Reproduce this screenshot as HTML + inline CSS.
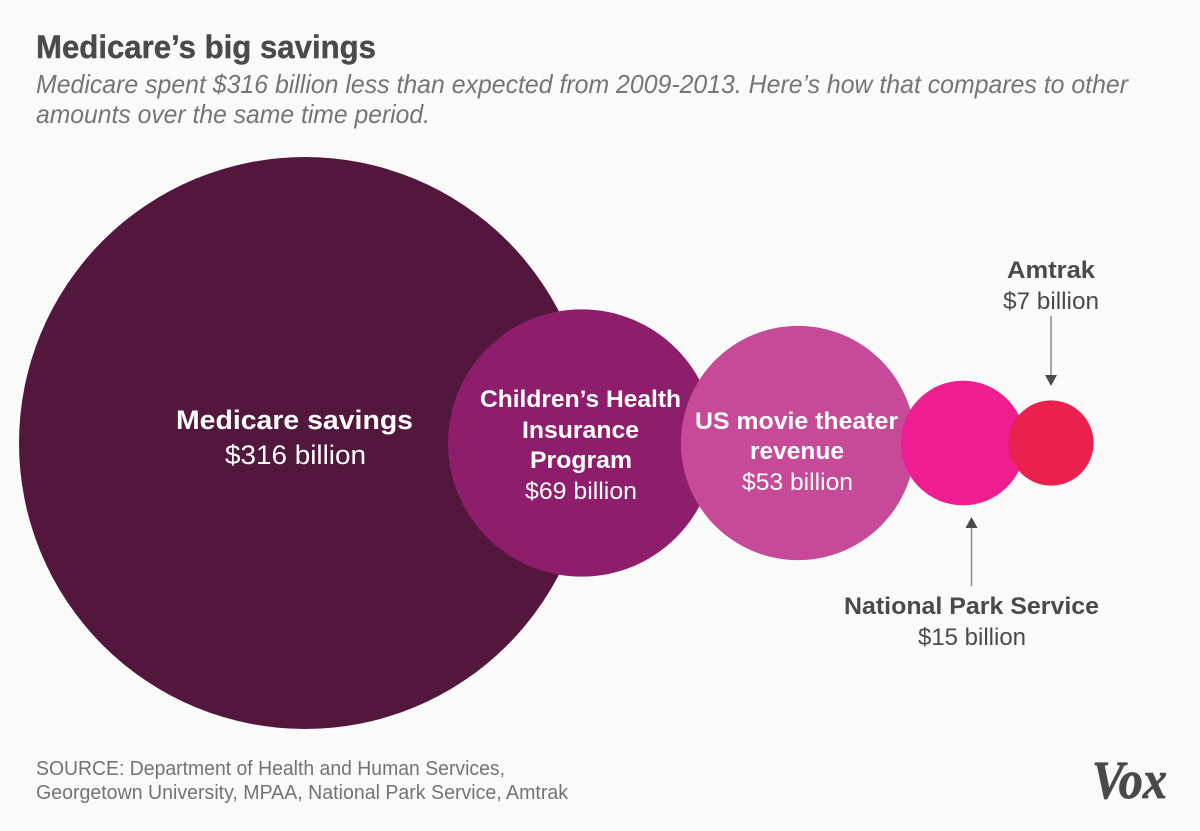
<!DOCTYPE html>
<html lang="en">
<head>
<meta charset="utf-8">
<title>Medicare's big savings</title>
<style>
  html, body { margin: 0; padding: 0; background: #fafafa; }
  svg { display: block; }
  text { font-family: "Liberation Sans", Arial, sans-serif; }
  .t { font-size: 32px; font-weight: 700; fill: #4a4a4a; stroke: #4a4a4a; stroke-width: 0.4px; }
  .s { font-size: 26px; font-style: italic; fill: #757575; }
  .bw { font-weight: 700; fill: #fff; text-anchor: start; }
  .rw { fill: #fff; }
  .bd { font-weight: 700; fill: #4a4a4a; }
  .rd { fill: #4a4a4a; }
  .src { font-size: 20px; fill: #737373; }
</style>
</head>
<body>
<svg id="chart" xmlns="http://www.w3.org/2000/svg" width="1200" height="831" viewBox="0 0 1200 831">
  <rect x="0" y="0" width="1200" height="831" fill="#fafafa"/>

  <text class="t" x="36" y="58" textLength="340" lengthAdjust="spacingAndGlyphs">Medicare’s big savings</text>
  <text class="s" x="36" y="93" textLength="1092" lengthAdjust="spacingAndGlyphs">Medicare spent $316 billion less than expected from 2009-2013. Here’s how that compares to other</text>
  <text class="s" x="36" y="123" textLength="394" lengthAdjust="spacingAndGlyphs">amounts over the same time period.</text>

  <g id="bubbles"></g>

  <g>
    <text class="bw" font-size="27" x="176" y="429" textLength="237" lengthAdjust="spacingAndGlyphs">Medicare savings</text>
    <text class="rw" font-size="27" x="225" y="464" textLength="141" lengthAdjust="spacingAndGlyphs">$316 billion</text>
  </g>
  <g>
    <text class="bw" font-size="24" x="480" y="407" textLength="201" lengthAdjust="spacingAndGlyphs">Children’s Health</text>
    <text class="bw" font-size="24" x="522" y="438" textLength="117" lengthAdjust="spacingAndGlyphs">Insurance</text>
    <text class="bw" font-size="24" x="530" y="468" textLength="102" lengthAdjust="spacingAndGlyphs">Program</text>
    <text class="rw" font-size="24" x="525" y="499" textLength="112" lengthAdjust="spacingAndGlyphs">$69 billion</text>
  </g>
  <g>
    <text class="bw" font-size="24" x="695" y="429" textLength="203" lengthAdjust="spacingAndGlyphs">US movie theater</text>
    <text class="bw" font-size="24" x="750" y="459" textLength="94" lengthAdjust="spacingAndGlyphs">revenue</text>
    <text class="rw" font-size="24" x="742" y="490" textLength="111" lengthAdjust="spacingAndGlyphs">$53 billion</text>
  </g>
  <g>
    <text class="bd" font-size="24" x="1007" y="278" textLength="88" lengthAdjust="spacingAndGlyphs">Amtrak</text>
    <text class="rd" font-size="24" x="1003" y="309" textLength="96" lengthAdjust="spacingAndGlyphs">$7 billion</text>
  </g>
  <g>
    <line x1="1051" y1="316" x2="1051" y2="376" stroke="#8a8a8a" stroke-width="1.5"/>
    <polygon points="1045,375 1057,375 1051,386" fill="#4a4a4a"/>
  </g>
  <g>
    <line x1="971.5" y1="586" x2="971.5" y2="527" stroke="#8a8a8a" stroke-width="1.5"/>
    <polygon points="965.5,528 977.5,528 971.5,517" fill="#4a4a4a"/>
  </g>
  <g>
    <text class="bd" font-size="24" x="844" y="614" textLength="255" lengthAdjust="spacingAndGlyphs">National Park Service</text>
    <text class="rd" font-size="24" x="918" y="645" textLength="108" lengthAdjust="spacingAndGlyphs">$15 billion</text>
  </g>

  <text class="src" x="36" y="775" textLength="469" lengthAdjust="spacingAndGlyphs">SOURCE: Department of Health and Human Services,</text>
  <text class="src" x="36" y="799" textLength="532" lengthAdjust="spacingAndGlyphs">Georgetown University, MPAA, National Park Service, Amtrak</text>
  <text x="1092" y="798" font-size="54" font-weight="700" font-style="italic" fill="#4a4a4a" stroke="#4a4a4a" stroke-width="0.8" textLength="75" lengthAdjust="spacingAndGlyphs" style="font-family:'Liberation Serif',serif">Vox</text>
</svg>

<script>
// Chart data: billions of dollars, 2009-2013
const categories = ["Medicare savings", "Children's Health Insurance Program", "US movie theater revenue", "National Park Service", "Amtrak"];
const values = [316, 69, 53, 15, 7];
const colors = ["#53173d", "#8e1e6b", "#c64a98", "#ee1d90", "#ea204e"];

// Layout settings
const baselineY = 443;
const leftEdge = 19;
const radiusOfLargest = 286;
const overlapPx = [0, 143, 34.4, 14.4, 16.9];

// Axis function: circle area is proportional to value
function radiusScale(v) {
  return radiusOfLargest * Math.sqrt(v / Math.max.apply(null, values));
}

const group = document.getElementById('bubbles');
let rightEdge = leftEdge;
values.forEach(function (v, i) {
  const r = radiusScale(v);
  const cx = rightEdge - overlapPx[i] + r;
  rightEdge = cx + r;
  const el = document.createElementNS('http://www.w3.org/2000/svg', 'circle');
  el.setAttribute('cx', cx);
  el.setAttribute('cy', baselineY);
  el.setAttribute('r', r);
  el.setAttribute('fill', colors[i]);
  
  
  group.appendChild(el);
});
</script>
</body>
</html>
